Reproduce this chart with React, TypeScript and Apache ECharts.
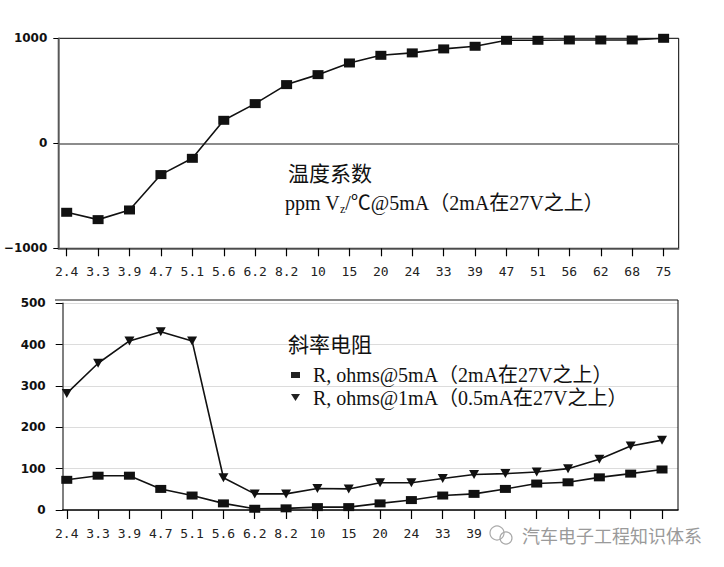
import React, { useEffect, useRef } from "react";
import * as echarts from "echarts";

const categories = ["2.4", "3.3", "3.9", "4.7", "5.1", "5.6", "6.2", "8.2", "10", "15", "20", "24", "33", "39", "47", "51", "56", "62", "68", "75"];
const tempCoeff = [-657, -727, -635, -298, -143, 219, 378, 559, 654, 765, 838, 861, 899, 924, 981, 981, 984, 984, 984, 1000];
const r5mA = [73, 83, 83, 51, 35, 16, 3, 4, 7, 7, 16, 24, 35, 39, 51, 64, 67, 79, 88, 98];
const r1mA = [282, 355, 409, 431, 409, 78, 39, 39, 52, 51, 66, 66, 76, 86, 88, 92, 100, 123, 155, 169];
// bottom axis labels from 47 onward are hidden under the watermark in the reference
const bottomVisibleLabels = 14;

const topTitle = "温度系数";
const bottomTitle = "斜率电阻";
const name5mA = "R, ohms@5mA（2mA在27V之上）";
const name1mA = "R, ohms@1mA（0.5mA在27V之上）";
const watermark = "汽车电子工程知识体系";

const SERIF = "'Liberation Serif', 'Noto Sans CJK SC', serif";
const CJK = "'Noto Sans CJK SC', sans-serif";

export default function App() {
  const ref = useRef<HTMLDivElement>(null);
  useEffect(() => {
    if (!ref.current) return;
    const chart = echarts.init(ref.current, undefined, { renderer: "svg" });
    const idx = categories.map((_, i) => i);
    const pairs = (arr: number[]) => arr.map((v, i) => [i, v]);
    const xLabelBase = {
      formatter: (v: number) => categories[Math.round(v)] ?? "",
      fontFamily: "'DejaVu Sans Mono', monospace",
      fontSize: 13,
      color: "#222",
      margin: 17,
    };
    const yLabel = {
      fontFamily: "'DejaVu Sans', sans-serif",
      fontWeight: "bold" as const,
      fontSize: 12,
      color: "#111",
      formatter: (v: number) => (v < 0 ? "−" + Math.abs(v) : String(v)),
    };
    chart.setOption({
      animation: false,
      backgroundColor: "#fff",
      grid: [
        { left: 58.3, right: 45.3, top: 38.3, height: 210, show: true, borderColor: "#000", borderWidth: 1, backgroundColor: "transparent" },
        { left: 62.7, right: 46, top: 303.3, height: 206.7 },
      ],
      xAxis: [
        {
          type: "value", gridIndex: 0, min: -0.267, max: 19.48,
          axisLine: { show: true, onZero: false, lineStyle: { color: "#555", width: 1.5 } },
          axisTick: { show: true, customValues: idx, length: 8, lineStyle: { color: "#000", width: 1.2 } },
          axisLabel: { ...xLabelBase, customValues: idx },
          splitLine: { show: false },
        },
        {
          type: "value", gridIndex: 1, min: -0.13, max: 19.51,
          axisLine: { show: true, onZero: false, lineStyle: { color: "#000", width: 1.5 } },
          axisTick: { show: true, customValues: idx, length: 9, lineStyle: { color: "#000", width: 1.2 } },
          axisLabel: { ...xLabelBase, customValues: idx.slice(0, bottomVisibleLabels) },
          splitLine: { show: false },
        },
      ],
      yAxis: [
        {
          type: "value", gridIndex: 0, min: -1000, max: 1000, interval: 1000,
          axisLine: { show: true, onZero: false, lineStyle: { color: "#666", width: 1.5 } },
          axisTick: { show: true, length: 5, lineStyle: { color: "#000" } },
          axisLabel: { ...yLabel, margin: 11 },
          splitLine: { show: true, showMinLine: false, showMaxLine: false, lineStyle: { color: "#8c8c8c", width: 2 } },
        },
        {
          type: "value", gridIndex: 1, min: 0, max: 500, interval: 100,
          axisLine: { show: true, onZero: false, lineStyle: { color: "#555", width: 1.5 } },
          axisTick: { show: true, length: 7, lineStyle: { color: "#000" } },
          axisLabel: { ...yLabel, margin: 17 },
          splitLine: { show: true, lineStyle: { color: "#dcdcdc", width: 1 } },
        },
      ],
      series: [
        {
          name: topTitle, type: "line", xAxisIndex: 0, yAxisIndex: 0,
          data: pairs(tempCoeff), symbol: "rect", symbolSize: [11, 9],
          itemStyle: { color: "#111" }, lineStyle: { color: "#111", width: 1.6 },
        },
        {
          name: name5mA, type: "line", xAxisIndex: 1, yAxisIndex: 1,
          data: pairs(r5mA), symbol: "rect", symbolSize: [11, 8],
          itemStyle: { color: "#111" }, lineStyle: { color: "#111", width: 1.6 },
        },
        {
          name: name1mA, type: "line", xAxisIndex: 1, yAxisIndex: 1,
          data: pairs(r1mA), symbol: "triangle", symbolRotate: 180, symbolSize: [10, 9],
          itemStyle: { color: "#111" }, lineStyle: { color: "#111", width: 1.6 },
        },
      ],
      graphic: [
        { type: "line", shape: { x1: 55, y1: 300, x2: 678, y2: 300 }, style: { stroke: "#8a8a8a", lineWidth: 2 }, z: 10 },
        { type: "line", shape: { x1: 678, y1: 300, x2: 678, y2: 510 }, style: { stroke: "#000", lineWidth: 1 }, z: 10 },
        {
          type: "text", x: 288, y: 172, z: 20,
          style: { text: topTitle, fontFamily: CJK, fontSize: 21, fill: "#111", align: "left", verticalAlign: "middle" },
        },
        {
          type: "text", x: 285, y: 203, z: 20,
          style: {
            text: "{a|ppm V}{s|z}{a|/℃@5mA（2mA在27V之上）}",
            fontFamily: SERIF, fontSize: 20, fill: "#111", align: "left", verticalAlign: "middle",
            rich: {
              a: { fontFamily: SERIF, fontSize: 20, fill: "#111", lineHeight: 24 },
              s: { fontFamily: SERIF, fontSize: 12, fill: "#111", lineHeight: 24, verticalAlign: "bottom", padding: [10, 0, 0, 0] },
            },
          },
        },
        {
          type: "text", x: 288, y: 343, z: 20,
          style: { text: bottomTitle, fontFamily: CJK, fontSize: 21, fill: "#111", align: "left", verticalAlign: "middle" },
        },
        { type: "rect", shape: { x: 291, y: 372, width: 9, height: 6 }, style: { fill: "#222" }, z: 20 },
        {
          type: "text", x: 313, y: 375, z: 20,
          style: { text: name5mA, fontFamily: SERIF, fontSize: 20, fill: "#111", align: "left", verticalAlign: "middle" },
        },
        { type: "polygon", shape: { points: [[291, 394], [300, 394], [295.5, 401]] }, style: { fill: "#222" }, z: 20 },
        {
          type: "text", x: 313, y: 398, z: 20,
          style: { text: name1mA, fontFamily: SERIF, fontSize: 20, fill: "#111", align: "left", verticalAlign: "middle" },
        },
        { type: "circle", shape: { cx: 497, cy: 533, r: 7 }, style: { fill: "none", stroke: "#aaa", lineWidth: 1.2 }, z: 20 },
        { type: "circle", shape: { cx: 506, cy: 538, r: 6 }, style: { fill: "none", stroke: "#aaa", lineWidth: 1.2 }, z: 20 },
        {
          type: "text", x: 522, y: 535, z: 20,
          style: { text: watermark, fontFamily: CJK, fontSize: 18, fill: "#9a9a9a", align: "left", verticalAlign: "middle" },
        },
      ],
    });
    return () => chart.dispose();
  }, []);
  return <div ref={ref} style={{ position: "absolute", left: 0, top: 0, width: 724, height: 567 }} />;
}
